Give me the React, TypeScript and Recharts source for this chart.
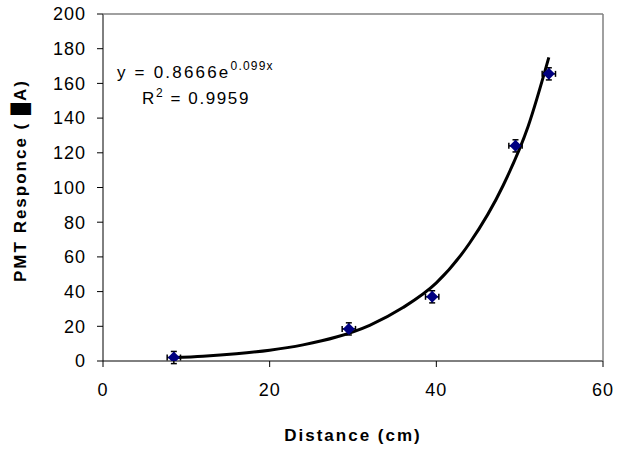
import React from "react";
import {
  ComposedChart,
  Line,
  Scatter,
  XAxis,
  YAxis,
  ErrorBar,
} from "recharts";

const distances = [8.5, 29.5, 39.5, 49.5, 53.5];
const responses = [2, 18.5, 37, 124, 165.5];
const xErrors = [0.8, 0.8, 0.8, 0.8, 0.8];
const yErrors = [3.5, 3.5, 3.5, 3.5, 3.5];

const trendX = [8.5, 12, 16, 20, 24, 28, 32, 36, 40, 44, 48, 51, 53.5];
const trendY = [2, 2.8, 4.2, 6.2, 9.3, 13.8, 20.6, 30.8, 45, 68, 101, 135, 175];

const xTicks = [0, 20, 40, 60];
const yTicks = [0, 20, 40, 60, 80, 100, 120, 140, 160, 180, 200];

const points = distances.map((d, i) => ({
  x: d,
  y: responses[i],
  ex: xErrors[i],
  ey: yErrors[i],
}));
const trend = trendX.map((x, i) => ({ x, trend: trendY[i] }));

const FONT = "'Liberation Sans', Arial, sans-serif";

const Diamond = (props: any) => {
  const { cx, cy } = props;
  const r = 6;
  return (
    <path
      d={`M${cx},${cy - r} L${cx + r},${cy} L${cx},${cy + r} L${cx - r},${cy} Z`}
      fill="#000080"
    />
  );
};

export default function App() {
  return (
    <div
      style={{
        position: "absolute",
        left: 0,
        top: 0,
        width: 634,
        height: 449,
        background: "#fff",
        fontFamily: FONT,
      }}
    >
      <ComposedChart
        width={634}
        height={449}
        data={trend}
        margin={{ top: 14, right: 31, bottom: 4, left: 0 }}
      >
        <XAxis
          type="number"
          dataKey="x"
          domain={[0, 60]}
          allowDataOverflow
          ticks={xTicks}
          height={84}
          stroke="#000"
          tickSize={6}
          tick={{ fill: "#000", fontSize: 18, fontFamily: FONT, letterSpacing: 1 }}
          tickMargin={16}
          label={{
            value: "Distance (cm)",
            position: "insideBottom",
            offset: 4,
            style: {
              fill: "#000",
              fontSize: 17,
              fontWeight: "bold",
              fontFamily: FONT,
              letterSpacing: 2,
            },
          }}
        />
        <YAxis
          type="number"
          domain={[0, 200]}
          allowDataOverflow
          ticks={yTicks}
          width={103}
          stroke="#000"
          tickSize={6}
          tick={{ fill: "#000", fontSize: 18, fontFamily: FONT, letterSpacing: 1 }}
          tickMargin={11}
          label={{
            value: "PMT Responce ( █A)",
            angle: -90,
            position: "insideLeft",
            offset: 20,
            dy: -7,
            style: {
              textAnchor: "middle",
              fill: "#000",
              fontSize: 17,
              fontWeight: "bold",
              fontFamily: FONT,
              letterSpacing: 2,
            },
          }}
        />
        <Line
          type="monotone"
          dataKey="trend"
          stroke="#000"
          strokeWidth={3}
          dot={false}
          isAnimationActive={false}
        />
        <Scatter
          data={points}
          dataKey="y"
          shape={<Diamond />}
          isAnimationActive={false}
        >
          <ErrorBar dataKey="ex" direction="x" stroke="#000" strokeWidth={1.5} width={3} />
          <ErrorBar dataKey="ey" direction="y" stroke="#000" strokeWidth={1.5} width={3} />
        </Scatter>
      </ComposedChart>
      <svg
        width={634}
        height={449}
        style={{ position: "absolute", left: 0, top: 0, pointerEvents: "none" }}
      >
        <line x1={103} y1={14} x2={603} y2={14} stroke="#808080" strokeWidth={1.5} />
        <line x1={603} y1={14} x2={603} y2={361} stroke="#808080" strokeWidth={1.5} />
        <text x={117} y={78} fontSize={17} fontFamily={FONT} fill="#000" letterSpacing={2.2}>
          y = 0.8666e
          <tspan fontSize={12} dy={-8} letterSpacing={1.2}>0.099x</tspan>
        </text>
        <text x={142} y={104} fontSize={17} fontFamily={FONT} fill="#000" letterSpacing={1.6}>
          R<tspan fontSize={12} dy={-7}>2</tspan>
          <tspan dy={7}> = 0.9959</tspan>
        </text>
      </svg>
    </div>
  );
}
